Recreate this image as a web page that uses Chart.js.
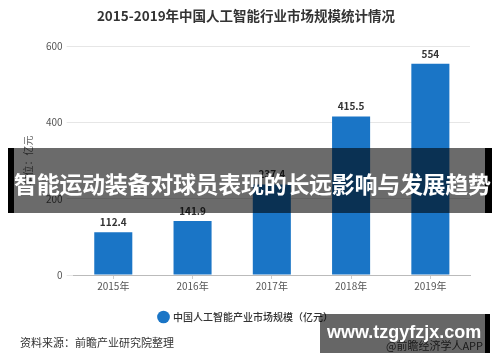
<!DOCTYPE html>
<html>
<head>
<meta charset="utf-8">
<script src="https://cdn.jsdelivr.net/npm/chart.js@4/dist/chart.umd.min.js"></script>
<style>
  body { margin: 0; background: #fff; font-family: "Noto Sans CJK SC", sans-serif; }
  #wrap { position: relative; width: 500px; height: 362px; overflow: hidden; }
  #myChart { position: absolute; left: 0; top: 0; }
  .banner {
    position: absolute; left: 8px; top: 148px; width: 484px; height: 65px;
    background: rgba(0,0,0,0.58); border-left: 6px solid #000; border-right: 7px solid #000;
    box-sizing: border-box; color: #fff; font-weight: bold; font-size: 23px;
    line-height: 70px; text-align: center; white-space: nowrap; letter-spacing: -0.3px;
  }
  .source { position: absolute; left: 20px; top: 334px; font-size: 11px; color: #333; }
  .app { position: absolute; left: 386px; top: 337px; font-size: 11px; color: #444; }
  .site {
    position: absolute; left: 320px; top: 314px; width: 170px; height: 39px;
    background: rgba(0,0,0,0.6); border-right: 5px solid #000; box-sizing: border-box;
    color: #fff; font-weight: bold; font-size: 18px; line-height: 36px;
    padding-left: 7px; font-family: "Liberation Sans", sans-serif; white-space: nowrap;
  }
</style>
</head>
<body>
<div id="wrap">
  <canvas id="myChart" width="500" height="362"></canvas>
  <div class="banner">智能运动装备对球员表现的长远影响与发展趋势</div>
  <div class="source">资料来源：前瞻产业研究院整理</div>
  <div class="app">@前瞻经济学人APP</div>
  <div class="site">www.tzgyfzjx.com</div>
</div>
<script>
'use strict';

const years = ['2015年', '2016年', '2017年', '2018年', '2019年'];
const marketSize = [112.4, 141.9, 237.4, 415.5, 554];
const yTicks = [0, 200, 400, 600];

// values above the bars
const valueLabels = {
    id: 'valueLabels',
    afterDatasetsDraw(chart) {
        const ctx = chart.ctx;
        const meta = chart.getDatasetMeta(0);
        ctx.save();
        ctx.font = 'bold 10px "Noto Sans CJK SC"';
        ctx.fillStyle = '#333';
        ctx.textAlign = 'center';
        ctx.textBaseline = 'bottom';
        meta.data.forEach((bar, i) => {
            ctx.fillText(marketSize[i], bar.x, bar.y - 5);
        });
        ctx.restore();
    }
};

var ctx = document.getElementById('myChart').getContext('2d');
var chart = new Chart(ctx, {
    type: 'bar',
    data: {
        labels: years,
        datasets: [{
            label: '中国人工智能产业市场规模（亿元）',
            backgroundColor: '#1a75c6',
            data: marketSize,
            categoryPercentage: 1,
            barPercentage: 0.48
        }]
    },
    options: {
        responsive: false,
        animation: false,
        layout: { padding: { left: 22, right: 30, top: 0, bottom: 30 } },
        plugins: {
            title: {
                display: true,
                text: '2015-2019年中国人工智能行业市场规模统计情况',
                color: '#333',
                font: { family: 'Noto Sans CJK SC', size: 13.5, weight: 'bold' },
                padding: { top: 8, bottom: 22 }
            },
            legend: {
                position: 'bottom',
                labels: {
                    usePointStyle: true,
                    pointStyle: 'circle',
                    boxWidth: 9,
                    boxHeight: 9,
                    color: '#333',
                    padding: 19,
                    font: { family: 'Noto Sans CJK SC', size: 10, weight: '500' }
                }
            },
            tooltip: { enabled: false }
        },
        scales: {
            x: {
                grid: { display: true, drawOnChartArea: false, offset: false, tickLength: 4, color: '#ccc' },
                border: { color: '#bbb' },
                ticks: { color: '#555', padding: 1, font: { family: 'Noto Sans CJK SC', size: 10 } }
            },
            y: {
                min: 0,
                max: 600,
                afterBuildTicks(axis) { axis.ticks = yTicks.map(v => ({ value: v })); },
                grid: { color: '#e6e6e6', tickLength: 7 },
                border: { display: false },
                title: {
                    display: true,
                    text: '单位：亿元',
                    color: '#666',
                    font: { family: 'Noto Sans CJK SC', size: 10 },
                    padding: { top: 0, bottom: 8 }
                },
                ticks: { color: '#555', padding: 4, font: { family: 'Noto Sans CJK SC', size: 10 } }
            }
        }
    },
    plugins: [valueLabels]
});
</script>
</body>
</html>
